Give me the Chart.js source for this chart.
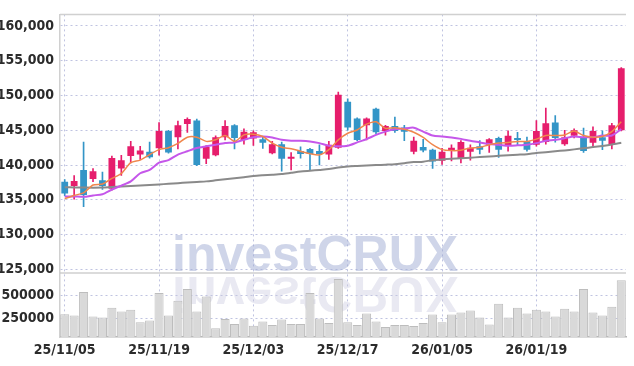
<!DOCTYPE html>
<html>
<head>
<meta charset="utf-8">
<script src="https://cdn.jsdelivr.net/npm/chart.js@4/dist/chart.umd.min.js"></script>
<style>
  html, body { margin: 0; padding: 0; background: #fff; }
  #wrap { width: 634px; height: 366px; }
</style>
</head>
<body>
<div id="wrap"><canvas id="chart" width="634" height="366"></canvas></div>
<script>
// 일봉 데이터 (25/11/05 ~ 26/01/30)
const dates = [
  '25/11/05','25/11/06','25/11/07','25/11/10','25/11/11','25/11/12','25/11/13','25/11/14','25/11/17','25/11/18',
  '25/11/19','25/11/20','25/11/21','25/11/24','25/11/25','25/11/26','25/11/27','25/11/28','25/12/01','25/12/02',
  '25/12/03','25/12/04','25/12/05','25/12/08','25/12/09','25/12/10','25/12/11','25/12/12','25/12/15','25/12/16',
  '25/12/17','25/12/18','25/12/19','25/12/22','25/12/23','25/12/24','25/12/26','25/12/29','25/12/30','26/01/02',
  '26/01/05','26/01/06','26/01/07','26/01/08','26/01/09','26/01/12','26/01/13','26/01/14','26/01/15','26/01/16',
  '26/01/19','26/01/20','26/01/21','26/01/22','26/01/23','26/01/26','26/01/27','26/01/28','26/01/29','26/01/30'
];
const opens = [
  137600,137000,139300,138000,137800,136600,139500,141300,141500,141900,
  142400,144900,144000,145900,146400,140900,141400,144000,145700,143600,
  143800,143700,141700,143000,140900,142000,142300,142000,141500,142500,
  149100,146700,145700,148100,144900,145600,145400,141900,142600,142200,
  140600,142100,141000,141900,142700,142900,143900,142800,143900,143400,
  142900,143300,146100,143000,144200,144000,143200,144000,143000,145000
];
const highs = [
  137900,138500,143300,139500,139000,141300,141400,143400,142700,143300,
  146100,145000,146300,146800,146600,142800,144200,146400,145800,145200,
  144900,144100,143400,143300,141800,142600,142400,142900,143400,150500,
  149500,146800,146800,148200,145700,146900,145700,144000,143700,142300,
  142400,142900,143500,142900,143500,143800,144000,144900,144700,144000,
  146400,148200,147100,145000,145200,145300,145500,144900,146000,154000
];
const lows = [
  135600,135100,134000,137600,136500,136400,138500,140300,140800,141000,
  141400,141700,142300,144700,139900,140200,141300,143600,142300,143000,
  142800,142400,141600,139100,139300,141000,139200,140000,140800,142400,
  145000,143500,143600,144500,144300,144700,143500,141600,141900,139500,
  140100,140600,140300,140700,141600,141800,141100,142000,142800,142000,
  142700,143000,143300,142800,143900,141800,142500,142200,142300,144900
];
const closes = [
  135900,137700,135700,139100,137000,141000,140700,142700,142100,141100,
  144900,141800,145700,146600,140000,142600,144000,145600,143900,144800,
  144700,143200,143000,140900,141200,141600,141600,141600,142900,150100,
  145400,143600,146700,144700,145600,144900,144800,143500,142100,140500,
  141900,142500,143300,142500,142200,143700,142200,144200,143600,142200,
  144900,146000,143900,144000,145000,142000,144900,143500,145700,153900
];
const volumes = [
  296000,282000,536000,271000,261000,367000,324000,345000,208000,229000,
  525000,282000,441000,568000,324000,486000,144000,243000,190000,250000,
  172000,218000,179000,239000,190000,190000,525000,250000,200000,677000,
  208000,179000,303000,218000,158000,179000,179000,168000,200000,292000,
  208000,292000,314000,335000,261000,186000,409000,261000,367000,303000,
  345000,324000,271000,356000,324000,568000,314000,282000,377000,663000
];
// 이동평균선
const ma5 = [
  135150,135630,136000,137130,137270,138070,138780,140330,140710,141500,
  142210,142490,143100,144000,144000,143400,143620,144240,143400,144330,
  144430,144100,143150,142550,142350,141980,141640,141460,142210,143620,
  144570,145030,145880,146220,145270,145370,145130,144710,143960,142920,
  142210,142070,142120,142450,142550,142920,143150,143250,143390,143390,
  143720,144240,144240,144330,144890,144240,144000,144100,144800,146220
];
const ma20 = [
  135490,135490,135430,135630,135810,136480,137040,137650,138820,139300,
  140330,140710,141500,141980,142450,142690,142920,143150,143250,143620,
  144000,144100,143960,143620,143480,143480,143390,143150,142770,142690,
  142770,143250,143720,144330,144800,145130,145230,145370,144800,144240,
  144100,143960,143760,143480,143250,143010,142920,142770,142830,142920,
  143150,143480,143620,143860,144100,144000,144000,144240,144240,145170
];
const ma120 = [
  136800,136780,136760,136740,136760,136850,136930,137000,137060,137130,
  137210,137300,137390,137480,137570,137650,137800,137950,138100,138250,
  138420,138520,138600,138700,138880,139060,139180,139300,139420,139650,
  139800,139870,139930,139990,140050,140120,140270,140420,140480,140700,
  140800,140900,140980,141060,141140,141230,141320,141400,141480,141560,
  141740,141850,141980,142100,142250,142400,142580,142750,142950,143200
];
const priceTicks = [125000, 130000, 135000, 140000, 145000, 150000, 155000, 160000];
const volumeTicks = [250000, 500000];

const UP = '#e61e6c';
const DOWN = '#3395c7';
const GRID = 'rgba(170,175,215,0.75)';
const FRAME = '#d0d0d0';
const LABEL_FONT = { family: "'Liberation Sans Narrow', 'DejaVu Sans Condensed', 'Liberation Sans', sans-serif", size: 14, weight: 'bold' };

const candleColors = closes.map((c, i) => c >= opens[i] ? UP : DOWN);

// 워터마크 + 패널 테두리
const decorations = {
  id: 'decorations',
  beforeDatasetsDraw(chart) {
    const ctx = chart.ctx;
    const area = chart.chartArea;
    const sep = chart.scales.yv.top;
    const base = sep - 1.6, mirror = sep + 1.4;
    ctx.save();
    ctx.font = "bold 50px 'Liberation Sans', Arial, sans-serif";
    ctx.textBaseline = 'alphabetic';
    ctx.fillStyle = 'rgba(160,172,212,0.5)';
    ctx.fillText('investCRUX', 172, base);
    ctx.beginPath();
    ctx.rect(area.left, sep, area.width, area.bottom - sep);
    ctx.clip();
    ctx.translate(0, 2 * mirror);
    ctx.scale(1, -1);
    ctx.fillStyle = 'rgba(200,200,222,0.4)';
    ctx.fillText('investCRUX', 172, base);
    ctx.restore();
  },
  afterDraw(chart) {
    const ctx = chart.ctx;
    const area = chart.chartArea;
    const sep = chart.scales.yv.top;
    ctx.save();
    ctx.strokeStyle = FRAME;
    ctx.lineWidth = 1.5;
    ctx.beginPath();
    ctx.moveTo(area.left, area.top);
    ctx.lineTo(area.right, area.top);
    ctx.moveTo(area.left, sep);
    ctx.lineTo(area.right, sep);
    ctx.stroke();
    ctx.restore();
  }
};

new Chart(document.getElementById('chart'), {
  type: 'bar',
  data: {
    labels: dates,
    datasets: [
      { type: 'line', label: 'MA5', data: ma5, yAxisID: 'y', borderColor: '#f0864c', borderWidth: 1.5, pointRadius: 0, tension: 0.25, order: 0 },
      { type: 'line', label: 'MA20', data: ma20, yAxisID: 'y', borderColor: '#c557ea', borderWidth: 2, pointRadius: 0, tension: 0.25, order: 0 },
      { type: 'line', label: 'MA120', data: ma120, yAxisID: 'y', borderColor: '#8a8a8a', borderWidth: 2, pointRadius: 0, tension: 0.25, order: 0 },
      { label: 'wick', data: lows.map((l, i) => [l, highs[i]]), yAxisID: 'y', backgroundColor: candleColors,
        barThickness: 1, grouped: false, order: 2 },
      { label: 'body', data: opens.map((o, i) => [o, closes[i]]), yAxisID: 'y', backgroundColor: candleColors,
        barPercentage: 0.72, categoryPercentage: 1, minBarLength: 1, borderSkipped: false, grouped: false, order: 1 },
      { label: 'volume', data: volumes, yAxisID: 'yv', backgroundColor: '#d9d9d9', borderColor: '#bdbdbd', borderWidth: 1,
        borderSkipped: false, barPercentage: 0.96, categoryPercentage: 1, grouped: false, order: 3 }
    ]
  },
  options: {
    responsive: false,
    animation: false,
    layout: { padding: { top: 9, right: 8, left: 0, bottom: 0 } },
    plugins: { legend: { display: false }, tooltip: { enabled: false } },
    scales: {
      x: {
        type: 'category',
        offset: true,
        afterFit: s => { s.height = 29; },
        grid: { offset: false, drawTicks: false, color: c => c.index % 10 === 0 ? GRID : 'transparent' },
        border: { display: true, color: '#b5b5b5', width: 1.5, dash: [2, 3] },
        ticks: {
          autoSkip: false, maxRotation: 0, padding: 5, color: '#2b2b2b', font: LABEL_FONT,
          callback: function(v, i) { return i % 10 === 0 ? dates[i] : ''; }
        }
      },
      // 왼쪽 축은 뒤에 정의한 것이 위로 배치됨
      yv: {
        position: 'left', stack: 'main', stackWeight: 65,
        min: 50000, max: 740000,
        afterBuildTicks: s => { s.ticks = volumeTicks.map(v => ({ value: v })); },
        afterFit: s => { s.width = 60; },
        grid: { drawTicks: false, color: GRID },
        border: { display: true, color: FRAME, width: 1.5, dash: [2, 3] },
        ticks: { padding: 6, color: '#2b2b2b', font: LABEL_FONT, callback: v => String(v) }
      },
      y: {
        position: 'left', stack: 'main', stackWeight: 263,
        min: 124470, max: 161650,
        afterBuildTicks: s => { s.ticks = priceTicks.map(v => ({ value: v })); },
        afterFit: s => { s.width = 60; },
        grid: { drawTicks: false, color: GRID },
        border: { display: true, color: FRAME, width: 1.5, dash: [2, 3] },
        ticks: { padding: 6, color: '#2b2b2b', font: LABEL_FONT, callback: v => v.toLocaleString('en-US') }
      }
    }
  },
  plugins: [decorations]
});
</script>
</body>
</html>
